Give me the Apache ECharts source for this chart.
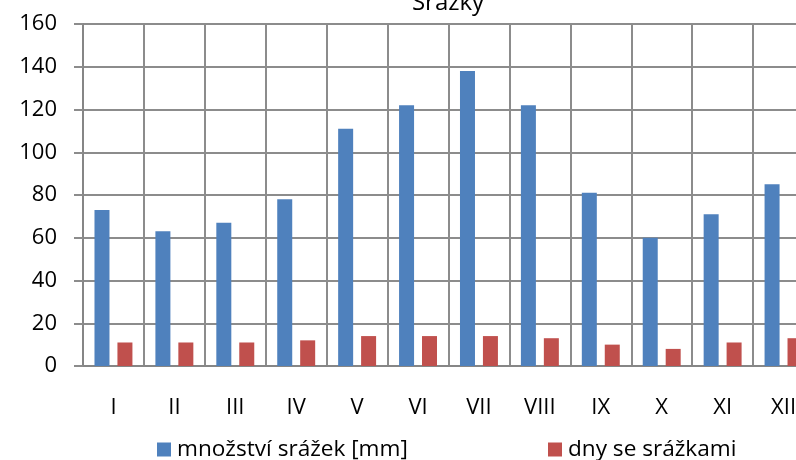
<!DOCTYPE html>
<html>
<head>
<meta charset="utf-8">
<script src="https://cdn.jsdelivr.net/npm/echarts@6/dist/echarts.min.js"></script>
<style>
html,body{margin:0;padding:0;background:#fff;}
#c{width:796px;height:460px;}
</style>
</head>
<body>
<div id="c"></div>
<script>
var categories = ['I','II','III','IV','V','VI','VII','VIII','IX','X','XI','XII'];
var precipitation = [73, 63, 67, 78, 111, 122, 138, 122, 81, 60, 71, 85];
var rainyDays = [11, 11, 11, 12, 14, 14, 14, 13, 10, 8, 11, 13];
var yTicks = [0, 20, 40, 60, 80, 100, 120, 140, 160];
var seriesNames = ['množství srážek [mm]', 'dny se srážkami'];
var titleText = 'Srážky';

var FONT = 'Open Sans';
var chart = echarts.init(document.getElementById('c'));
chart.setOption({
  animation: false,
  backgroundColor: '#fff',
  title: {
    text: titleText,
    left: 443, top: -14,
    textAlign: 'center',
    textStyle: {fontFamily: FONT, fontSize: 24, fontWeight: 'normal', color: '#000'}
  },
  legend: [
    {
      data: [seriesNames[0]],
      left: 152, top: 433,
      icon: 'rect', itemWidth: 14, itemHeight: 14, itemGap: 0,
      textStyle: {fontFamily: FONT, fontSize: 22.6, color: '#000', padding: [0,0,0,1]}
    },
    {
      data: [seriesNames[1]],
      left: 543, top: 433,
      icon: 'rect', itemWidth: 14, itemHeight: 14, itemGap: 0,
      textStyle: {fontFamily: FONT, fontSize: 22.6, color: '#000', padding: [0,0,0,1]}
    }
  ],
  grid: {left: 83, top: 24, right: -18, bottom: 94, containLabel: false, outerBoundsMode: 'none'},
  xAxis: {
    type: 'category',
    data: categories,
    boundaryGap: true,
    axisLine: {show: true, lineStyle: {color: '#868686', width: 2}},
    axisTick: {show: false},
    splitLine: {show: true, lineStyle: {color: '#8c8c8c', width: 2}},
    axisLabel: {fontFamily: FONT, fontSize: 22, color: '#000', margin: 31, interval: 0}
  },
  yAxis: {
    type: 'value',
    min: yTicks[0], max: yTicks[yTicks.length-1], interval: yTicks[1]-yTicks[0],
    axisLine: {show: true, lineStyle: {color: '#868686', width: 2}},
    axisTick: {show: true, length: 9, lineStyle: {color: '#8c8c8c', width: 2}},
    splitLine: {show: true, lineStyle: {color: '#8c8c8c', width: 2}},
    axisLabel: {fontFamily: FONT, fontSize: 22, color: '#000', margin: 26}
  },
  series: [
    {
      name: seriesNames[0], type: 'bar', data: precipitation,
      barWidth: 15, barGap: '53%',
      itemStyle: {color: '#4F81BD'}
    },
    {
      name: seriesNames[1], type: 'bar', data: rainyDays,
      barWidth: 15, barGap: '53%',
      itemStyle: {color: '#C0504D'}
    }
  ]
});
</script>
</body>
</html>
